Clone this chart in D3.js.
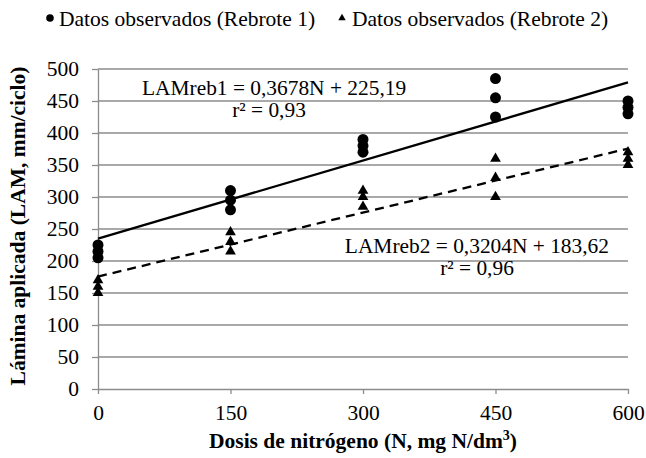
<!DOCTYPE html>
<html>
<head>
<meta charset="utf-8">
<script src="https://cdn.jsdelivr.net/npm/d3@7"></script>
<style>
    body { margin: 0; background: #fff; }
</style>
</head>
<body>
<svg id="chart" width="646" height="458"></svg>
<script>
// observed data, three reps per dose
var dosis = [0, 150, 300, 450, 600];
var rebrote1 = [
    [225, 215, 205],
    [310, 295, 280],
    [390, 380, 370],
    [485, 455, 425],
    [450, 440, 430]
];
var rebrote2 = [
    [170, 160, 150],
    [245, 230, 215],
    [310, 300, 285],
    [360, 330, 300],
    [370, 360, 350]
];
var xTicks = [0, 150, 300, 450, 600];
var yTicks = [0, 50, 100, 150, 200, 250, 300, 350, 400, 450, 500];
var legendLabels = ["Datos observados (Rebrote 1)", "Datos observados (Rebrote 2)"];
var ecuaciones = ["LAMreb1 = 0,3678N + 225,19", "LAMreb2 = 0,3204N + 183,62"];
var r2 = ["r² = 0,93", "r² = 0,96"];

var FONT = "'Liberation Serif'";

var svg = d3.select("#chart");
var margin = {top: 69, right: 18, bottom: 69, left: 98};
var width = 646 - margin.left - margin.right;
var height = 458 - margin.top - margin.bottom;

var x = d3.scaleLinear().domain([0, 600]).range([0, width]);
var y = d3.scaleLinear().domain([0, 500]).range([height, 0]);

var g = svg.append("g").attr("transform", "translate(" + margin.left + "," + margin.top + ")");

// flatten reps into points
function puntos(serie) {
    var out = [];
    serie.forEach(function(reps, i) {
        reps.forEach(function(v) { out.push({x: dosis[i], y: v}); });
    });
    return out;
}
var p1 = puntos(rebrote1);
var p2 = puntos(rebrote2);

// least squares fit of the plotted points
function ajuste(pts) {
    var mx = d3.mean(pts, d => d.x), my = d3.mean(pts, d => d.y);
    var num = d3.sum(pts, d => (d.x - mx) * (d.y - my));
    var den = d3.sum(pts, d => (d.x - mx) * (d.x - mx));
    var b = num / den;
    return {b: b, a: my - b * mx};
}

// gridlines
g.append("g")
    .selectAll("line")
    .data(yTicks.slice(1))
    .enter()
    .append("line")
    .attr("x1", 0)
    .attr("x2", width)
    .attr("y1", d => y(d))
    .attr("y2", d => y(d))
    .attr("stroke", "#8c8c8c")
    .attr("stroke-width", 1.3);

// y axis
var yAxis = g.append("g")
    .call(d3.axisLeft(y).tickValues(yTicks).tickSize(6).tickPadding(13).tickSizeOuter(0));
yAxis.select(".domain").attr("stroke", "#8c8c8c").attr("stroke-width", 1.3);
yAxis.selectAll(".tick line").attr("stroke", "#8c8c8c").attr("stroke-width", 1.3);
yAxis.selectAll("text").style("font-family", FONT).style("font-size", "21.5px").attr("fill", "#000");

// x axis
var xAxis = g.append("g")
    .attr("transform", "translate(0," + height + ")")
    .call(d3.axisBottom(x).tickValues(xTicks).tickSize(5).tickPadding(11).tickSizeOuter(0));
xAxis.select(".domain").attr("stroke", "#8c8c8c").attr("stroke-width", 1.3);
xAxis.selectAll(".tick line").attr("stroke", "#8c8c8c").attr("stroke-width", 1.3);
xAxis.selectAll("text").style("font-family", FONT).style("font-size", "21.5px").attr("fill", "#000");

// trend lines
[[p1, null], [p2, "9,6"]].forEach(function(s) {
    var f = ajuste(s[0]);
    g.append("line")
        .attr("x1", x(0))
        .attr("y1", y(f.a))
        .attr("x2", x(600))
        .attr("y2", y(f.a + f.b * 600))
        .attr("stroke", "#000")
        .attr("stroke-width", 2.3)
        .attr("stroke-dasharray", s[1]);
});

var tri = d3.symbol().type(d3.symbolTriangle).size(50);

g.append("g")
    .selectAll("circle")
    .data(p1)
    .enter()
    .append("circle")
    .attr("cx", d => x(d.x))
    .attr("cy", d => y(d.y))
    .attr("r", 5.5)
    .attr("fill", "#000");

g.append("g")
    .selectAll("path")
    .data(p2)
    .enter()
    .append("path")
    .attr("d", tri)
    .attr("transform", d => "translate(" + x(d.x) + "," + y(d.y) + ")")
    .attr("fill", "#000");

function texto(parent, tx, ty, size, s, anchor) {
    return parent.append("text")
        .attr("x", tx)
        .attr("y", ty)
        .attr("text-anchor", anchor || "start")
        .style("font-family", FONT)
        .style("font-size", size + "px")
        .text(s);
}

// equations
texto(g, 44, 26, 21.4, ecuaciones[0]);
texto(g, 171, 48, 21.4, r2[0], "middle");
texto(g, 511, 184, 21.4, ecuaciones[1], "end");
texto(g, 379, 206, 21.4, r2[1], "middle");

// legend
var leg = svg.append("g");
leg.append("circle").attr("cx", 50).attr("cy", 18).attr("r", 3.8).attr("fill", "#000");
texto(leg, 59, 26, 21.5, legendLabels[0]);
leg.append("path").attr("d", d3.symbol().type(d3.symbolTriangle).size(24)).attr("transform", "translate(342,18)").attr("fill", "#000");
texto(leg, 352, 26, 21.5, legendLabels[1]);

// axis titles
texto(svg, margin.left + width / 2, 448, 21.5, "", "middle")
    .style("font-weight", "bold")
    .html("Dosis de nitrógeno (N, mg N/dm<tspan dy='-8' font-size='14px'>3</tspan><tspan dy='8'>)</tspan>");

texto(svg, 0, 0, 21.5, "Lámina aplicada (LAM, mm/ciclo)", "middle")
    .attr("transform", "translate(25,226) rotate(-90)")
    .style("font-weight", "bold");
</script>
</body>
</html>
